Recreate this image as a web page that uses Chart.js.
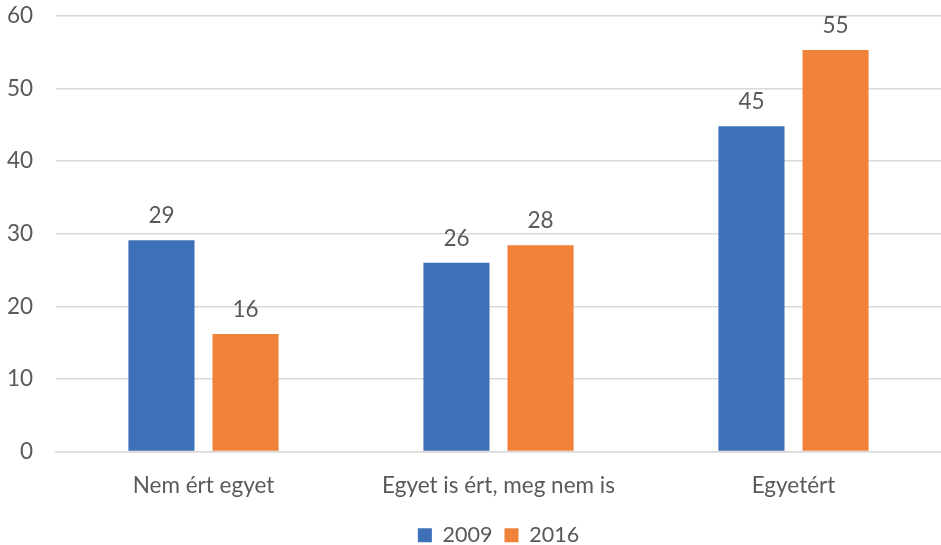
<!DOCTYPE html>
<html><head><meta charset="utf-8">
<script src="https://cdn.jsdelivr.net/npm/chart.js@4/dist/chart.umd.min.js"></script>
<style>html,body{margin:0;padding:0;background:#fff}#wrap{width:941px;height:545px}</style>
</head><body><div id="wrap"><canvas id="c"></canvas></div>
<script>
const categories = ["Nem ért egyet", "Egyet is ért, meg nem is", "Egyetért"];
const series2009 = [29.1, 26.0, 44.8];
const series2016 = [16.2, 28.4, 55.3];
const yTicks = [0, 10, 20, 30, 40, 50, 60];
const FONT = "Lato, 'Open Sans', sans-serif";
const TXT = '#595959';
const FS = 22.5;

const labelPlugin = {
  id: 'valLabels',
  afterDatasetsDraw(chart) {
    const ctx = chart.ctx;
    ctx.save();
    ctx.font = FS + 'px ' + FONT;
    ctx.fillStyle = TXT;
    ctx.textAlign = 'center';
    ctx.textBaseline = 'bottom';
    chart.data.datasets.forEach((ds, i) => {
      chart.getDatasetMeta(i).data.forEach((el, j) => {
        ctx.fillText(Math.round(ds.data[j]).toString(), el.x, el.y - 13);
      });
    });
    ctx.restore();
  }
};

new Chart(document.getElementById('c'), {
  type: 'bar',
  data: {
    labels: categories,
    datasets: [
      {label: '2009', data: series2009, backgroundColor: '#3E70B8'},
      {label: '2016', data: series2016, backgroundColor: '#F0823A'}
    ]
  },
  options: {
    responsive: true, maintainAspectRatio: false, animation: false,
    layout: {padding: {top: 0, right: 0, left: 0, bottom: -11}},
    categoryPercentage: 0.57, barPercentage: 0.786,
    plugins: {
      legend: {position: 'bottom', fullSize: false, labels: {font: {size: 21.5, family: FONT}, color: TXT, boxWidth: 14, boxHeight: 14, padding: 12}},
      tooltip: {enabled: false}
    },
    scales: {
      x: {
        grid: {display: false},
        border: {color: '#d9d9d9', width: 1.5},
        ticks: {font: {size: FS, family: FONT}, color: TXT, padding: 13}
      },
      y: {
        min: 0, max: 60,
        afterFit(s) { s.width = 56; s.paddingTop = 16; s.paddingBottom = 0; },
        afterBuildTicks(s) { s.ticks = yTicks.map(v => ({value: v})); },
        grid: {color: '#d9d9d9', lineWidth: 1.5, drawTicks: false},
        border: {display: false},
        ticks: {font: {size: FS, family: FONT}, color: TXT, padding: 23}
      }
    }
  },
  plugins: [labelPlugin]
});
</script></body></html>
